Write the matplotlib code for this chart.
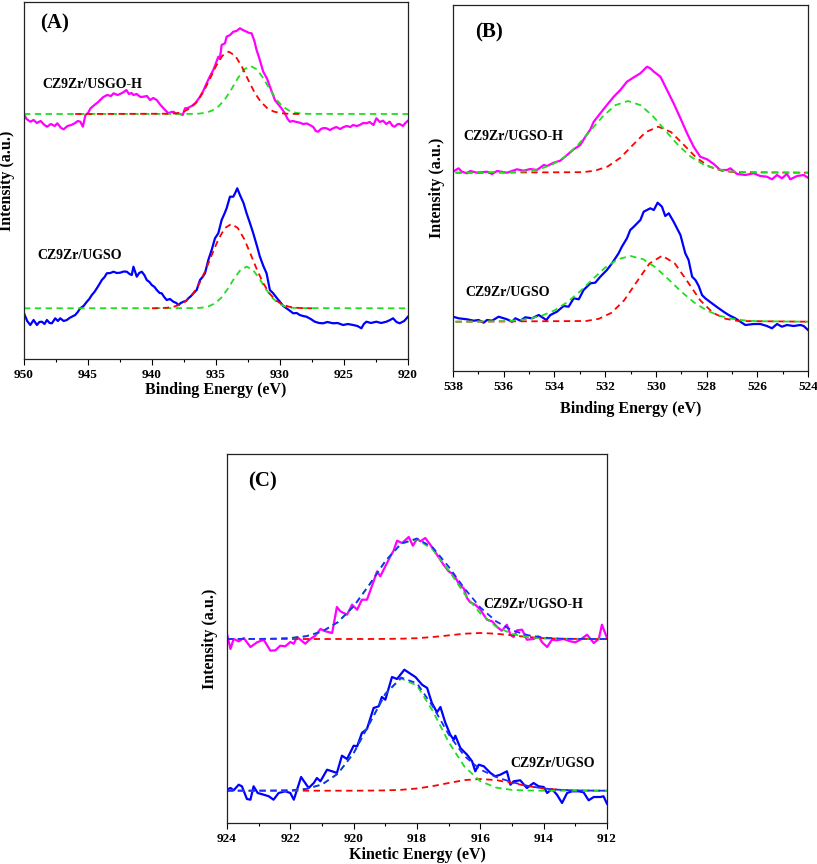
import matplotlib
matplotlib.use("Agg")
import matplotlib.pyplot as plt
from matplotlib.ticker import MultipleLocator

plt.rcParams['font.family'] = ['Liberation Serif', 'DejaVu Serif']
plt.rcParams['font.weight'] = 'bold'

# ---------------- Panel A : Cu 2p ----------------
A_pink_E = [950.0, 949.8, 949.5, 949.25, 949.0, 948.7, 948.4, 948.2, 947.9, 947.6, 947.4, 947.1, 946.9, 946.6,
            946.3, 946.0, 945.8, 945.6, 945.4, 945.2, 945.0, 944.8, 944.5, 944.2, 944.05, 943.8, 943.5, 943.2,
            943.0, 942.7, 942.5, 942.2, 942.0, 941.8, 941.6, 941.45, 941.2, 940.9, 940.67, 940.4, 940.15, 939.9,
            939.63, 939.4, 939.1, 938.9, 938.7, 938.5, 938.33, 938.1, 937.94, 937.6, 937.42, 937.2, 936.9, 936.6,
            936.25, 936.0, 935.73, 935.5, 935.21, 935.0, 934.82, 934.7, 934.56, 934.3, 934.17, 933.9, 933.65,
            933.4, 933.13, 932.9, 932.61, 932.4, 932.22, 932.0, 931.83, 931.6, 931.31, 931.0, 930.79, 930.6,
            930.4, 930.1, 929.88, 929.62, 929.4, 929.23, 929.0, 928.7, 928.45, 928.2, 927.9, 927.67, 927.4,
            927.2, 927.02, 926.8, 926.6, 926.37, 926.1, 925.85, 925.6, 925.3, 925.07, 924.8, 924.5, 924.29,
            924.0, 923.77, 923.5, 923.25, 923.0, 922.7, 922.47, 922.2, 921.95, 921.7, 921.43, 921.2, 921.04,
            920.8, 920.65, 920.4, 920.2, 920.0]
A_pink_I = [244.5, 240, 237.3, 239, 236, 238, 234, 232.3, 235, 233, 235.7, 231, 229.7, 233,
            234, 236, 238, 237.3, 232.3, 244, 246, 250.7, 254, 257, 259, 262, 264, 263,
            265.7, 264, 265, 267, 269, 265, 266, 264, 265, 262, 262.3, 263, 259, 261,
            259, 255, 250.7, 248, 245.7, 247, 247.3, 245, 245.7, 244, 250.7, 251, 253, 256,
            262.3, 268, 275.7, 282, 289, 296, 302.3, 300, 314, 315.7, 322.3, 324, 327.3,
            328, 330.7, 329, 327.3, 326, 325.7, 318, 309, 300, 287.3, 280, 272.3, 266,
            259, 254, 250.7, 245.7, 240, 237.3, 238, 237, 236.3, 235, 235.5, 234, 232,
            228, 227.3, 230, 231, 230.7, 229, 230.7, 232, 230, 231.7, 233, 232, 234,
            233, 234, 236, 235.7, 237, 234, 240.7, 237, 238.3, 235, 237.3, 233, 232.3,
            235, 235, 233, 236, 238.3]

A_blue_E = [950.0, 949.75, 949.51, 949.25, 948.99, 948.8, 948.6, 948.4, 948.21, 948.0, 947.82, 947.56, 947.35,
            947.17, 946.9, 946.65, 946.45, 946.26, 946.0, 945.8, 945.61, 945.35, 945.09, 944.9, 944.7, 944.5,
            944.31, 944.1, 943.92, 943.7, 943.53, 943.25, 943.01, 942.75, 942.49, 942.2, 941.97, 941.75, 941.58,
            941.45, 941.19, 941.0, 940.8, 940.6, 940.41, 940.2, 940.02, 939.8, 939.63, 939.4, 939.24, 939.05,
            938.85, 938.6, 938.33, 938.1, 937.94, 937.75, 937.55, 937.35, 937.16, 936.95, 936.77, 936.51,
            936.25, 936.05, 935.86, 935.6, 935.34, 935.08, 934.82, 934.56, 934.35, 934.17, 933.91, 933.65,
            933.5, 933.34, 933.13, 932.85, 932.61, 932.35, 932.09, 931.8, 931.57, 931.3, 931.05, 930.79,
            930.53, 930.25, 930.01, 929.75, 929.49, 929.2, 928.97, 928.7, 928.45, 928.2, 927.93, 927.6,
            927.28, 926.95, 926.63, 926.3, 925.85, 925.5, 925.07, 924.7, 924.29, 923.95, 923.64, 923.45,
            923.25, 922.9, 922.47, 922.1, 921.69, 921.4, 921.17, 920.9, 920.65, 920.3, 920.0]
A_blue_I = [45.7, 38, 34, 39, 34, 37, 37.3, 35, 39, 36, 35.7, 40.7, 38,
            40.7, 38, 39, 41, 42.3, 44, 47, 50.7, 53, 57.3, 60, 64, 67,
            70.7, 75, 79, 82, 85.7, 86, 87.3, 86, 86.3, 87.5, 87.3, 85, 84,
            92.3, 82.3, 86, 87.3, 84, 79, 77, 74, 72, 69, 66, 65.7, 62,
            59, 60, 57.3, 56, 54, 56, 57.3, 58, 60.7, 63, 65.7, 69,
            79, 82, 85.7, 99, 109, 120.7, 125.7, 139, 145, 150.7, 162.3, 162.3,
            166, 170.7, 164, 156, 145.7, 136, 125.7, 113, 102.3, 93, 85.7, 69,
            65.7, 61, 57.3, 53, 50.7, 48, 45.7, 46, 44, 43, 42.3, 40,
            37.3, 36, 35.7, 37, 35.7, 36, 34, 35, 34, 33, 30.7, 35,
            37.3, 36, 37.3, 36, 37.3, 39, 40.7, 37, 35.7, 38, 42.3]

A_top_red_E = [946, 938.5, 938.0, 937.5, 937.0, 936.5, 936.0, 935.5, 935.0, 934.5, 934.0, 933.5, 933.0,
               932.5, 932.0, 931.5, 931.0, 930.5, 930.0, 929.5, 928.5]
A_top_red_I = [245, 245.3, 245.9, 247.5, 250.9, 257.1, 266.8, 279.5, 292.9, 303.3, 307.3, 303.3, 292.9,
               279.5, 266.8, 257.1, 250.9, 247.5, 245.9, 245.3, 245]
A_top_green_E = [950, 936.8, 936.3, 935.8, 935.3, 934.8, 934.3, 933.8, 933.3, 932.8, 932.3, 931.8, 931.3,
                 930.8, 930.3, 929.8, 929.3, 928.8, 928.3, 927.8, 920]
A_top_green_I = [245, 245.1, 245.4, 246.3, 248.4, 252.6, 259.7, 269.7, 280.7, 289.6, 293.0, 289.6, 280.7,
                 269.7, 259.7, 252.6, 248.4, 246.3, 245.4, 245.1, 245]
A_bot_red_E = [940, 939.3, 938.8, 938.3, 937.8, 937.3, 936.8, 936.3, 935.8, 935.3, 934.8, 934.3, 933.8,
               933.3, 932.8, 932.3, 931.8, 931.3, 930.8, 930.3, 929.8, 929.3, 928.8, 928.3, 927.5]
A_bot_red_I = [50.7, 50.9, 51.3, 52.3, 54.4, 58.4, 65.2, 75.6, 89.3, 105.0, 120.1, 131.0, 135.0,
               131.0, 120.1, 105.0, 89.3, 75.6, 65.2, 58.4, 54.4, 52.3, 51.3, 50.9, 50.7]
A_bot_green_E = [950, 936.6, 936.1, 935.6, 935.1, 934.6, 934.1, 933.6, 933.1, 932.6, 932.1, 931.6, 931.1,
                 930.6, 930.1, 929.6, 929.1, 928.6, 920]
A_bot_green_I = [50.7, 50.9, 51.3, 52.5, 55.5, 61.1, 69.8, 80.2, 88.9, 92.4, 88.9, 80.2, 69.8,
                 61.1, 55.5, 52.5, 51.3, 50.9, 50.7]

# ---------------- Panel B : O 1s ----------------
B_pink_E = [538.0, 537.78, 537.65, 537.45, 537.32, 537.05, 536.66, 536.46, 536.26, 535.87, 535.48, 535.21,
            534.95, 534.69, 534.42, 534.29, 534.03, 533.77, 533.5, 533.24, 532.98, 532.78, 532.58, 532.45,
            532.19, 531.93, 531.66, 531.4, 531.14, 530.87, 530.61, 530.35, 530.22, 530.08, 529.82, 529.56,
            529.3, 529.03, 528.77, 528.51, 528.25, 527.98, 527.72, 527.46, 527.19, 527.06, 526.8, 526.47,
            526.14, 525.88, 525.62, 525.42, 525.22, 525.03, 524.83, 524.7, 524.43, 524.17, 524.0]
B_pink_I = [199.3, 202.7, 199.3, 197.7, 200, 198.3, 199.3, 197, 200, 198.3, 201.7, 200.3,
            202, 201, 206, 205, 208.3, 210.3, 216, 221.7, 226, 234.3, 241.7, 249.3,
            257.7, 266, 274.3, 281, 289.3, 293.7, 297.7, 304.3, 302.7, 299.3, 294.3, 281,
            267.7, 252.7, 237.7, 224.3, 214.3, 211.7, 207, 201, 201, 202.7, 197, 196,
            197.7, 195, 194.3, 191.7, 196, 192.7, 197, 191.7, 195, 196, 193.3]

B_blue_E = [538.0, 537.78, 537.45, 537.18, 536.99, 536.79, 536.66, 536.46, 536.2, 535.87, 535.67, 535.54,
            535.34, 535.15, 534.88, 534.62, 534.42, 534.32, 534.16, 533.9, 533.64, 533.44, 533.24, 533.04,
            532.85, 532.58, 532.39, 532.19, 531.93, 531.73, 531.47, 531.34, 531.14, 531.01, 530.87, 530.61,
            530.48, 530.22, 530.08, 529.93, 529.76, 529.63, 529.49, 529.3, 529.03, 528.84, 528.71, 528.57,
            528.44, 528.31, 528.18, 528.05, 527.79, 527.52, 527.33, 527.13, 526.87, 526.67, 526.47, 526.14,
            525.88, 525.62, 525.42, 525.22, 525.03, 524.83, 524.57, 524.3, 524.17, 524.0]
B_blue_I = [54.3, 52.7, 51.7, 50.3, 51, 48.3, 51, 50.3, 54.3, 51.7, 49.3, 52.7,
            50.3, 53.7, 52.7, 56, 52.7, 51, 56, 59.3, 65, 64.3, 72.7, 71.7,
            81, 87.7, 88.3, 94.3, 101, 107.7, 117.7, 124.3, 132.7, 141, 144.3, 151,
            159.3, 162.7, 161, 168.3, 164.3, 155, 157.7, 149.3, 136, 117.7, 111, 94.3,
            91, 85, 76, 72.7, 67.7, 62.7, 59.3, 56, 52.7, 49.3, 46, 47,
            47, 45, 42.7, 47, 44.3, 46, 45, 46, 45, 41]

B_top_green_E = [537.9, 535.6, 535.1, 534.6, 534.1, 533.6, 533.1, 532.6, 532.1, 531.6, 531.1, 530.6, 530.1,
                 529.6, 529.1, 528.6, 528.1, 527.6, 527.1, 526.6, 524]
B_top_green_I = [198.3, 198.8, 199.7, 201.9, 206.2, 213.9, 225.3, 239.7, 254.4, 265.8, 270.0, 265.8, 254.4,
                 239.7, 225.3, 213.9, 206.2, 201.9, 199.7, 198.8, 198.3]
B_top_red_E = [537.9, 532.9, 532.4, 531.9, 531.4, 530.9, 530.4, 529.9, 529.4, 528.9, 528.4, 527.9, 527.4,
               526.9, 524]
B_top_red_I = [198.3, 198.8, 200.3, 204.5, 213.2, 226.2, 238.9, 244.3, 238.9, 226.2, 213.2, 204.5, 200.3,
               198.8, 198.3]
B_bot_green_E = [537.9, 536.0, 535.5, 535.0, 534.5, 534.0, 533.5, 533.0, 532.5, 532.0, 531.5, 531.0, 530.5,
                 530.0, 529.5, 529.0, 528.5, 528.0, 527.5, 527.0, 526.5, 526.0, 524]
B_bot_green_I = [49.3, 49.8, 50.6, 52.2, 55.3, 60.6, 68.7, 79.4, 91.6, 103.4, 111.8, 115.0, 111.8,
                 103.4, 91.6, 79.4, 68.7, 60.6, 55.3, 52.2, 50.6, 49.8, 49.3]
B_bot_red_E = [537.9, 532.75, 532.25, 531.75, 531.25, 530.75, 530.25, 529.75, 529.25, 528.75, 528.25, 527.75,
               527.25, 526.75, 524]
B_bot_red_I = [49.3, 50.0, 52.2, 58.2, 70.7, 89.3, 107.5, 115.3, 107.5, 89.3, 70.7, 58.2,
               52.2, 50.0, 49.3]

# ---------------- Panel C : Cu LMM ----------------
C_pink_E = [924.0, 923.89, 923.79, 923.63, 923.47, 923.26, 923.05, 922.84, 922.63, 922.47, 922.32, 922.16,
            922.0, 921.89, 921.79, 921.68, 921.53, 921.37, 921.21, 921.05, 920.89, 920.68, 920.53, 920.42,
            920.21, 920.05, 919.89, 919.74, 919.58, 919.37, 919.26, 919.16, 919.0, 918.84, 918.74, 918.63,
            918.47, 918.26, 918.13, 918.0, 917.89, 917.74, 917.58, 917.37, 917.16, 917.0, 916.84, 916.63,
            916.53, 916.42, 916.32, 916.16, 916.0, 915.79, 915.63, 915.47, 915.32, 915.16, 915.05, 914.95,
            914.84, 914.68, 914.53, 914.32, 914.16, 914.05, 913.89, 913.74, 913.58, 913.37, 913.16, 913.0,
            912.84, 912.63, 912.42, 912.26, 912.16, 912.0]
C_pink_I = [189, 174, 184, 181.7, 185, 176, 180.7, 183.3, 172.3, 172.7, 177.3, 176.7,
            181, 179.3, 186, 183.3, 179.3, 184, 187.3, 194, 191.7, 190, 216, 211.7,
            208.3, 218.3, 213.3, 223.3, 223.3, 241.7, 251.7, 246.7, 256.7, 266.7, 272.3, 282.3,
            280, 286, 277.3, 284, 281.7, 285, 278.3, 268.3, 258.3, 251.7, 248.3, 236.7,
            235, 225, 220.7, 218.3, 213.3, 203.3, 201.7, 196, 192.3, 198.3, 188.3, 186,
            192.7, 193.3, 183.3, 184, 186.7, 180.7, 176, 183.3, 182.7, 184, 181.7, 180.7,
            183.3, 188.3, 180, 184, 198.3, 185]

C_blue_E = [924.0, 923.89, 923.79, 923.63, 923.53, 923.37, 923.26, 923.16, 923.03, 922.84, 922.68, 922.53,
            922.37, 922.16, 922.0, 921.89, 921.66, 921.53, 921.42, 921.26, 921.16, 921.05, 920.84, 920.68,
            920.53, 920.37, 920.21, 920.0, 919.89, 919.74, 919.58, 919.37, 919.21, 919.11, 919.0, 918.79,
            918.63, 918.4, 918.21, 918.05, 917.84, 917.68, 917.53, 917.37, 917.26, 917.11, 916.95, 916.84,
            916.79, 916.63, 916.42, 916.26, 916.16, 916.05, 915.89, 915.68, 915.53, 915.37, 915.16, 915.05,
            914.95, 914.74, 914.53, 914.32, 914.16, 914.0, 913.89, 913.74, 913.58, 913.42, 913.26, 913.11,
            912.89, 912.74, 912.58, 912.42, 912.21, 912.11, 912.0]
C_blue_I = [33.3, 35, 32.7, 38.3, 36.7, 24, 23.3, 36.7, 30, 28.3, 26.7, 23.3,
            30, 31.7, 30, 23.3, 46, 40, 35, 40, 45, 41.7, 53.3, 51.7,
            50, 67.3, 64, 77.3, 76.7, 90, 94, 115, 116.7, 126, 123.3, 146,
            144, 153.3, 149.3, 146, 138.3, 135, 120, 110.7, 116, 100.7, 88.3, 83.3,
            87.3, 75, 68.3, 61.7, 51.7, 58.3, 56.7, 50, 46.7, 48.3, 51.7, 38.3,
            41.7, 42.7, 35, 40, 36.7, 36, 30, 34, 28.3, 20, 30, 31.7,
            31.7, 30.7, 22.7, 26, 26, 26.7, 19.3]

C_fit_E = [924, 923.0, 922.5, 922.0, 921.5, 921.0, 920.5, 920.0, 919.5, 919.0, 918.5, 918.0, 917.5,
           917.0, 916.5, 916.0, 915.5, 915.0, 914.5, 914.0, 913.5, 913.0, 912.5, 912]
C_top_green_I = [184, 184.1, 184.3, 184.9, 186.8, 191.4, 200.8, 216.7, 238.5, 261.8, 279.2, 283.7, 273.4,
                 252.7, 229.2, 209.5, 196.3, 189.1, 185.8, 184.6, 184.1, 184, 184, 184]
C_top_red_I = [184, 184, 184, 184, 184, 184, 184, 184, 184, 184.1, 184.3, 184.8, 186.0,
               187.6, 189.3, 190.0, 189.3, 187.6, 186.0, 184.8, 184.3, 184.1, 184, 184]
C_top_env_I = [184, 184.1, 184.3, 184.9, 186.8, 191.4, 200.8, 216.7, 238.5, 261.9, 279.5, 284.5, 275.4,
               256.3, 234.5, 215.5, 201.6, 192.7, 187.8, 185.4, 184.4, 184.1, 184, 184]
C_bot_green_I = [32.3, 32.3, 32.4, 32.7, 34.1, 38.5, 49.3, 69.9, 99.4, 128.9, 144.5, 137.5, 111.9,
                 80.9, 56.3, 41.8, 35.4, 33.1, 32.5, 32.3, 32.3, 32.3, 32.3, 32.3]
C_bot_red_I = [32.3, 32.3, 32.3, 32.3, 32.3, 32.3, 32.3, 32.3, 32.4, 32.6, 33.2, 34.5, 36.9,
               40.0, 42.9, 44.0, 42.9, 40.0, 36.9, 34.5, 33.2, 32.6, 32.4, 32.3]
C_bot_env_I = [32.3, 32.3, 32.4, 32.7, 34.1, 38.5, 49.3, 69.9, 99.5, 129.2, 145.4, 139.7, 116.5,
               88.6, 66.9, 53.5, 46.0, 40.8, 37.1, 34.5, 33.2, 32.6, 32.4, 32.3]

labels_top = ["CZ9Zr/USGO-H", "CZ9Zr/UGSO-H", "CZ9Zr/UGSO-H"]
labels_bot = ["CZ9Zr/UGSO", "CZ9Zr/UGSO", "CZ9Zr/UGSO"]
panel_tags = ["(A)", "(B)", "(C)"]
xlabels = ["Binding Energy (eV)", "Binding Energy (eV)", "Kinetic Energy (eV)"]

PINK = '#ff00ff'
BLUE = '#0000ff'
RED = '#ff0000'
GREEN = '#22dd22'
ENV = '#1a2cff'
DASH = (3.5, 2.5)

fig = plt.figure(figsize=(8.17, 8.64), dpi=100)
W, H = 817, 864


def make_ax(l, r, t, b):
    return fig.add_axes([l / W, 1 - b / H, (r - l) / W, (b - t) / H])


axA = make_ax(24, 408, 2, 359)
axB = make_ax(453, 808, 5, 371)
axC = make_ax(227, 607, 454, 823)


def style(ax, xlim, ylim, major, minor, xlabel, xl_y):
    ax.set_xlim(*xlim)
    ax.set_ylim(*ylim)
    ax.xaxis.set_major_locator(MultipleLocator(major))
    ax.xaxis.set_minor_locator(MultipleLocator(minor))
    ax.set_yticks([])
    ax.tick_params(axis='x', which='major', direction='out', length=4, width=0.8,
                   labelsize=9.5, pad=3.5)
    ax.tick_params(axis='x', which='minor', direction='out', length=2.2, width=0.8)
    for lab in ax.get_xticklabels():
        lab.set_fontweight('bold')
    for s in ax.spines.values():
        s.set_linewidth(0.9)
        s.set_color('#222222')
    ax.set_xlabel(xlabel, fontsize=11.5, fontweight='bold', va='center')
    ax.xaxis.set_label_coords(0.5, xl_y)
    ax.set_ylabel("Intensity (a.u.)", fontsize=11.5, fontweight='bold', va='center')
    ax.yaxis.set_label_coords(-0.045, 0.5)


def dashed(ax, x, y, c):
    ax.plot(x, y, color=c, lw=1.3, dashes=DASH)


# Panel A
axA.plot(A_pink_E, A_pink_I, color=PINK, lw=1.6)
axA.plot(A_blue_E, A_blue_I, color=BLUE, lw=1.6)
dashed(axA, A_top_green_E, A_top_green_I, GREEN)
dashed(axA, A_top_red_E, A_top_red_I, RED)
dashed(axA, A_bot_green_E, A_bot_green_I, GREEN)
dashed(axA, A_bot_red_E, A_bot_red_I, RED)
style(axA, (950, 920), (0, 357), 5, 2.5, xlabels[0], -0.087)
axA.text(0.042, 0.94, panel_tags[0], transform=axA.transAxes, fontsize=15, fontweight='bold', va='center')
axA.text(0.049, 0.768, labels_top[0], transform=axA.transAxes, fontsize=10, fontweight='bold', va='center')
axA.text(0.036, 0.291, labels_bot[0], transform=axA.transAxes, fontsize=10, fontweight='bold', va='center')

# Panel B
axB.plot(B_pink_E, B_pink_I, color=PINK, lw=1.6)
axB.plot(B_blue_E, B_blue_I, color=BLUE, lw=1.6)
dashed(axB, B_top_red_E, B_top_red_I, RED)
dashed(axB, B_top_green_E, B_top_green_I, GREEN)
dashed(axB, B_bot_red_E, B_bot_red_I, RED)
dashed(axB, B_bot_green_E, B_bot_green_I, GREEN)
style(axB, (538, 524), (0, 366), 2, 1, xlabels[1], -0.104)
axB.text(0.062, 0.925, panel_tags[1], transform=axB.transAxes, fontsize=15, fontweight='bold', va='center')
axB.text(0.029, 0.64, labels_top[1], transform=axB.transAxes, fontsize=10, fontweight='bold', va='center')
axB.text(0.034, 0.214, labels_bot[1], transform=axB.transAxes, fontsize=10, fontweight='bold', va='center')

# Panel C
axC.plot(C_pink_E, C_pink_I, color=PINK, lw=1.6)
axC.plot(C_blue_E, C_blue_I, color=BLUE, lw=1.6)
dashed(axC, C_fit_E, C_top_red_I, RED)
dashed(axC, C_fit_E, C_top_green_I, GREEN)
dashed(axC, C_fit_E, C_top_env_I, ENV)
dashed(axC, C_fit_E, C_bot_red_I, RED)
dashed(axC, C_fit_E, C_bot_green_I, GREEN)
dashed(axC, C_fit_E, C_bot_env_I, ENV)
style(axC, (924, 912), (0, 369), 2, 1, xlabels[2], -0.087)
axC.text(0.056, 0.925, panel_tags[2], transform=axC.transAxes, fontsize=15, fontweight='bold', va='center')
axC.text(0.674, 0.593, labels_top[2], transform=axC.transAxes, fontsize=10, fontweight='bold', va='center')
axC.text(0.745, 0.162, labels_bot[2], transform=axC.transAxes, fontsize=10, fontweight='bold', va='center')

fig.savefig("out.png", dpi=100, facecolor='white')
